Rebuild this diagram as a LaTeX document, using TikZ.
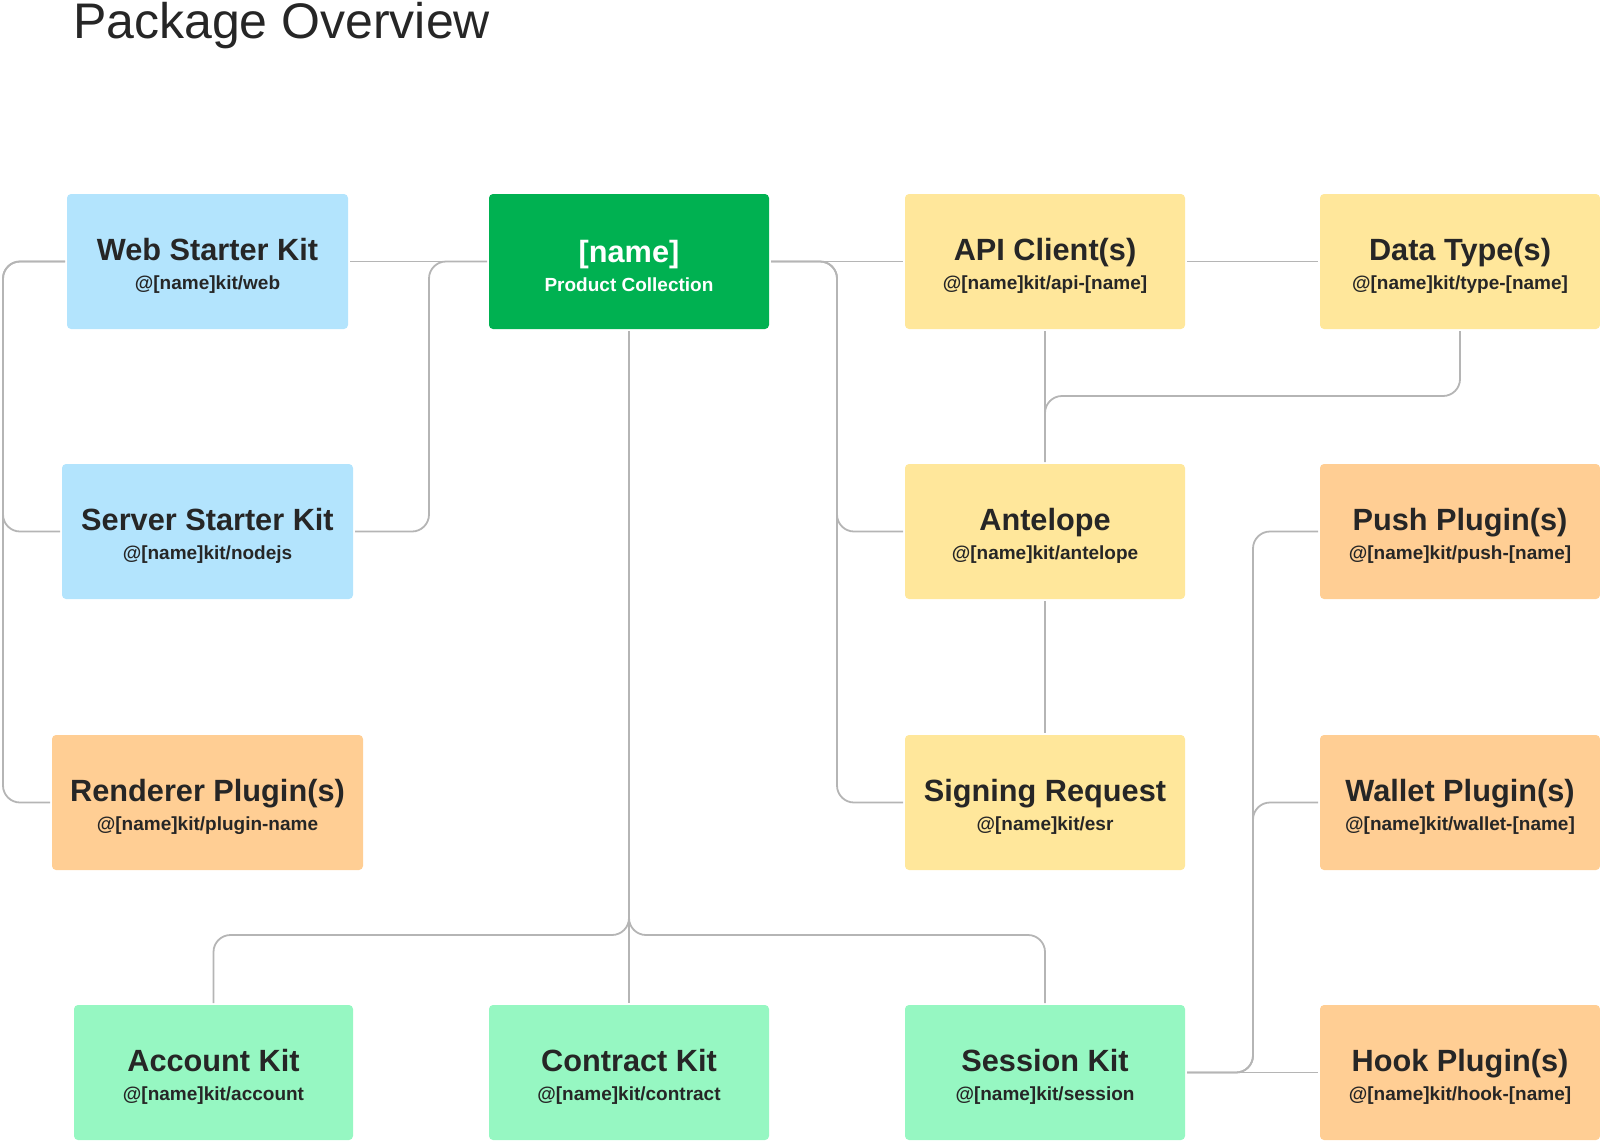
\documentclass[tikz,border=0pt]{standalone}
\usepackage{fontspec}
\setmainfont{Liberation Sans}
\usetikzlibrary{calc}
\definecolor{kitblue}{HTML}{B3E4FD}
\definecolor{kitgreen}{HTML}{00B151}
\definecolor{kityellow}{HTML}{FFE79B}
\definecolor{kitorange}{HTML}{FFCE94}
\definecolor{kitmint}{HTML}{96F7C2}
\definecolor{kittext}{HTML}{262626}
\definecolor{kitline}{HTML}{B5B5B5}
\newcommand{\pkgtitle}{\fontsize{30.7}{29}\selectfont\bfseries\rule{0pt}{31pt}}
\newcommand{\pkgpath}{\fontsize{19}{29}\selectfont\bfseries}
\newcommand{\pkg}[6] % name, x/y in px, width, colour, title, path
{
	% draw package box
	\node[pkgbox, fill=#4, minimum width=#3] (#1) at (#2) {{\pkgtitle #5}\\#6};
}
\tikzset{
	pkgbox/.style={rectangle, rounded corners=4pt, minimum height=135pt, inner sep=0pt, outer sep=2pt, align=center, text=kittext, font=\pkgpath},
	link/.style={draw=kitline, line width=1.8pt, rounded corners=17pt}
}

\begin{document}
\begin{tikzpicture}[x=1pt, y=-1pt]
	% page: 1600px x 1141px, y pointing down
	\useasboundingbox (0,0) rectangle (1600,1141);
	\node[anchor=base west, inner sep=0pt, text=kittext, font=\fontsize{50}{60}\selectfont] (title) at (73,38) {Package Overview};
	
	% left column
	\pkg{web}{207.5,261.5}{281pt}{kitblue}{Web Starter Kit}{@[name]kit/web}
	\pkg{server}{207.5,531.5}{291pt}{kitblue}{Server Starter Kit}{@[name]kit/nodejs}
	\pkg{render}{207.5,802.5}{311pt}{kitorange}{Renderer Plugin(s)}{@[name]kit/plugin-name}
	\pkg{account}{213.5,1072.5}{279pt}{kitmint}{Account Kit}{@[name]kit/account}
	
	% middle column
	\node[pkgbox, fill=kitgreen, text=white, minimum width=280pt] (coll) at (629,261.5) {{\pkgtitle [name]}\\Product Collection};
	\pkg{contract}{629,1072.5}{280pt}{kitmint}{Contract Kit}{@[name]kit/contract}
	
	% right columns
	\pkg{api}{1045,261.5}{280pt}{kityellow}{API Client(s)}{@[name]kit/api-[name]}
	\pkg{antelope}{1045,531.5}{280pt}{kityellow}{Antelope}{@[name]kit/antelope}
	\pkg{signing}{1045,802.5}{280pt}{kityellow}{Signing Request}{@[name]kit/esr}
	\pkg{session}{1045,1072.5}{280pt}{kitmint}{Session Kit}{@[name]kit/session}
	\pkg{data}{1460,261.5}{280pt}{kityellow}{Data Type(s)}{@[name]kit/type-[name]}
	\pkg{push}{1460,531.5}{280pt}{kitorange}{Push Plugin(s)}{@[name]kit/push-[name]}
	\pkg{wallet}{1460,802.5}{280pt}{kitorange}{Wallet Plugin(s)}{@[name]kit/wallet-[name]}
	\pkg{hook}{1460,1072.5}{280pt}{kitorange}{Hook Plugin(s)}{@[name]kit/hook-[name]}
	
	% spines
	\coordinate (lspine) at (3,0);
	\coordinate (cspine) at (429,0);
	\coordinate (rspine) at (837,0);
	\coordinate (pspine) at (1253,0);
	\coordinate (dbend) at (0,396);
	\coordinate (bbar) at (0,935);
	
	\draw[link] (web) -- (coll);
	\draw[link] (web.west) -- (web.west -| lspine) |- (server.west);
	\draw[link] (web.west) -- (web.west -| lspine) |- (render.west);
	\draw[link] (server.east) -- (server.east -| cspine) |- (coll.west);
	
	\draw[link] (coll) -- (api);
	\draw[link] (coll.east) -- (coll.east -| rspine) |- (antelope.west);
	\draw[link] (coll.east) -- (coll.east -| rspine) |- (signing.west);
	\draw[link] (api) -- (data);
	\draw[link] (api) -- (antelope);
	\draw[link] (data.south) |- (dbend -| antelope.north) -- (antelope.north);
	\draw[link] (antelope) -- (signing);
	
	\draw[link] (coll) -- (contract);
	\draw[link] (coll.south) -- (coll.south |- bbar) -| (account.north);
	\draw[link] (coll.south) -- (coll.south |- bbar) -| (session.north);
	
	\draw[link] (session) -- (hook);
	\draw[link] (session.east) -- (session.east -| pspine) |- (push.west);
	\draw[link] (session.east) -- (session.east -| pspine) |- (wallet.west);
\end{tikzpicture}
\end{document}
